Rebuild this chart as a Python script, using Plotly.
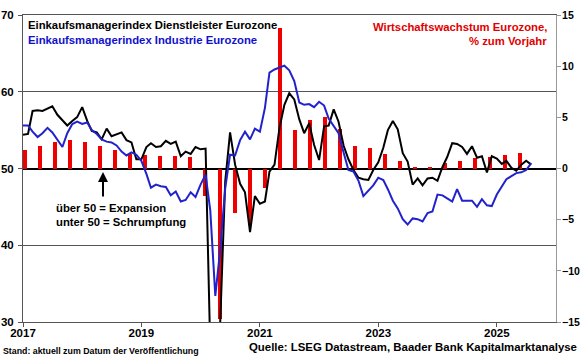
import plotly.graph_objects as go
import pandas as pd

# ---------------- data ----------------
months = pd.date_range("2017-01-01", periods=104, freq="MS")

pmi_services = [
    54.4, 54.5, 57.5, 57.6, 57.5, 57.8, 58.1, 57.0, 56.3, 55.6, 56.2, 56.7,
    58.0, 56.2, 54.9, 54.7, 53.8, 55.2, 54.2, 54.4, 54.7, 53.7, 53.4, 51.2,
    51.2, 52.8, 53.3, 52.8, 52.9, 53.6, 53.2, 53.5, 51.6, 52.2, 51.9, 52.8,
    52.5, 52.6, 26.4, 12.0, 30.5, 48.3, 54.7, 50.5, 48.0, 46.9, 41.7, 46.4,
    45.4, 45.7, 49.6, 50.5, 55.2, 58.3, 59.8, 59.0, 56.4, 54.6, 55.9, 53.1,
    51.1, 55.5, 55.6, 57.7, 56.1, 53.0, 51.2, 49.8, 48.8, 48.6, 48.5, 49.8,
    50.8, 52.7, 55.0, 56.2, 55.1, 52.0, 50.9, 47.9, 48.7, 47.8, 48.7, 48.8,
    48.4, 50.2, 51.5, 53.3, 53.2, 52.8, 51.9, 52.9, 51.4, 51.6, 49.5, 51.6,
    51.3, 50.6, 51.0, 50.1, 49.7, 50.5, 51.0, 50.5,
]

pmi_industry = [
    55.6, 55.6, 54.8, 54.1, 54.6, 55.3, 54.7, 53.8, 52.8, 54.6, 55.8, 56.1,
    55.8, 56.0, 55.0, 54.5, 53.8, 53.5, 53.4, 53.0, 52.2, 51.7, 52.1, 51.8,
    51.0, 49.3, 47.5, 47.9, 47.7, 47.6, 46.5, 47.0, 45.7, 45.9, 46.9, 46.3,
    47.9, 49.2, 44.5, 33.4, 39.4, 47.4, 51.8, 51.7, 53.7, 54.8, 53.8, 55.2,
    54.8, 57.9, 62.5, 62.9, 63.1, 63.4, 62.8, 61.4, 58.6, 58.3, 58.4, 58.0,
    58.7, 58.2, 56.5, 55.5, 54.6, 52.1, 49.8, 49.6, 48.4, 46.4, 47.1, 47.8,
    48.8, 48.5, 47.3, 45.8, 44.8, 43.4, 42.7, 43.5, 43.4, 43.1, 44.2, 44.4,
    46.6, 46.5, 46.1, 45.7, 47.3, 45.8, 45.8, 45.8, 45.0, 46.0, 45.2, 45.1,
    46.6, 47.6, 48.6, 49.0, 49.4, 49.5, 49.8, 50.7,
]

quarters = [f"{y}Q{q}" for y in range(2017, 2026) for q in range(1, 5)][:34]
gdp_yoy = [
    1.8, 2.2, 2.6, 2.8,
    2.6, 2.2, 1.8, 1.4,
    1.3, 1.2, 1.2, 1.1,
    -2.7, -14.7, -4.3, -5.4,
    -1.9, 13.7, 3.8, 4.7,
    5.0, 3.9, 2.2, 2.0,
    1.45, 0.7, 0.15, 0.15,
    0.5, 0.7, 1.0, 1.1,
    1.35, 1.5,
]

left_ticks = [30, 40, 50, 60, 70]
right_ticks = [-15, -10, -5, 0, 5, 10, 15]
year_ticks = ["2017-01-01", "2019-01-01", "2021-01-01", "2023-01-01", "2025-01-01"]
year_labels = ["2017", "2019", "2021", "2023", "2025"]

# ---------------- figure ----------------
FONT = "Liberation Sans, Arial, sans-serif"
fig = go.Figure()

# GDP bars on the main subplot (drawn beneath the lines)
fig.add_trace(go.Bar(
    x=quarters, y=gdp_yoy, xaxis="x", yaxis="y",
    marker=dict(color="#EE0000", line=dict(width=0)),
    width=0.3, hoverinfo="skip", showlegend=False,
))
# PMI lines on the overlay subplot
fig.add_trace(go.Scatter(
    x=months, y=pmi_services, xaxis="x2", yaxis="y2", mode="lines",
    line=dict(color="#000000", width=2), showlegend=False,
))
fig.add_trace(go.Scatter(
    x=months, y=pmi_industry, xaxis="x2", yaxis="y2", mode="lines",
    line=dict(color="#2222CC", width=2), showlegend=False,
))

W, H = 580, 359
L, R, T, B = 23, 24, 15, 37
pw, ph = W - L - R, H - T - B


def px(xp):
    return (xp - L) / pw


def py(yp):
    return (H - B - yp) / ph


tickfont = dict(family=FONT, size=11.5, weight="bold", color="black")
rtickfont = dict(family=FONT, size=10.5, weight="bold", color="black")

fig.update_layout(
    width=W, height=H,
    margin=dict(l=L, r=R, t=T, b=B, pad=0, autoexpand=False),
    paper_bgcolor="white", plot_bgcolor="white",
    font=dict(family=FONT, size=11.5, color="black"),
    bargap=0,
    xaxis=dict(
        type="category", range=[-0.1333, 35.4], visible=False,
        fixedrange=True, automargin=False,
    ),
    yaxis=dict(
        range=[-15, 15], side="right", anchor="x", automargin=False,
        tickvals=right_ticks, ticks="outside", ticklen=4, tickcolor="#999999",
        showline=True, linecolor="#999999", linewidth=1,
        showgrid=False,
        zeroline=True, zerolinecolor="#000000", zerolinewidth=2,
        tickfont=rtickfont, ticklabelstandoff=-1,
    ),
    xaxis2=dict(
        type="date", overlaying="x", anchor="y2", side="bottom", automargin=False,
        range=["2017-01-01", "2026-01-01"],
        tickvals=year_ticks, ticktext=year_labels,
        ticks="outside", ticklen=4, tickcolor="#555555",
        showline=True, mirror=True, linecolor="#555555", linewidth=1,
        showgrid=False, zeroline=False,
        tickfont=tickfont, ticklabelstandoff=-4,
    ),
    yaxis2=dict(
        range=[30, 70], overlaying="y", anchor="x2", side="left", automargin=False,
        tickvals=left_ticks, ticks="outside", ticklen=4, tickcolor="#555555",
        showline=True, linecolor="#555555", linewidth=1,
        showgrid=True, gridcolor="#555555", gridwidth=1,
        zeroline=False,
        tickfont=tickfont, ticklabelstandoff=2,
    ),
)

ann_font = dict(family=FONT, size=11.3, weight="bold")
annotations = [
    dict(text="Einkaufsmanagerindex Dienstleister Eurozone", x=px(26), y=py(25),
         xanchor="left", yanchor="middle", font=dict(ann_font, color="#000000")),
    dict(text="Einkaufsmanagerindex Industrie Eurozone", x=px(26), y=py(40),
         xanchor="left", yanchor="middle", font=dict(ann_font, color="#1111CC")),
    dict(text="Wirtschaftswachstum Eurozone,", x=px(549), y=py(27),
         xanchor="right", yanchor="middle", font=dict(ann_font, color="#E00000")),
    dict(text="% zum Vorjahr", x=px(549), y=py(41),
         xanchor="right", yanchor="middle", font=dict(ann_font, color="#E00000")),
    dict(text="über 50 = Expansion", x=px(54), y=py(208),
         xanchor="left", yanchor="middle", font=dict(ann_font, color="#000000")),
    dict(text="unter 50 = Schrumpfung", x=px(54), y=py(222),
         xanchor="left", yanchor="middle", font=dict(ann_font, color="#000000")),
    dict(text="Stand: aktuell zum Datum der Veröffentlichung", x=px(1), y=py(351),
         xanchor="left", yanchor="middle",
         font=dict(family=FONT, size=8.8, weight="bold", color="#000000")),
    dict(text="Quelle: LSEG Datastream, Baader Bank Kapitalmarktanalyse", x=px(579), y=py(347),
         xanchor="right", yanchor="middle",
         font=dict(family=FONT, size=11.4, weight="bold", color="#000000")),
]
for a in annotations:
    a.update(xref="paper", yref="paper", showarrow=False)

# arrow pointing up to the 50 line
annotations.append(dict(
    text="", xref="paper", yref="paper", x=px(103), y=py(172),
    ax=0, ay=26, axref="pixel", ayref="pixel",
    showarrow=True, arrowhead=2, arrowsize=1, arrowwidth=2, arrowcolor="#000000",
))
fig.update_layout(annotations=annotations)

fig.write_html(
    "out.html",
    config={"displayModeBar": False},
    post_script="document.body.style.margin='0px';document.body.style.overflow='hidden';",
)
